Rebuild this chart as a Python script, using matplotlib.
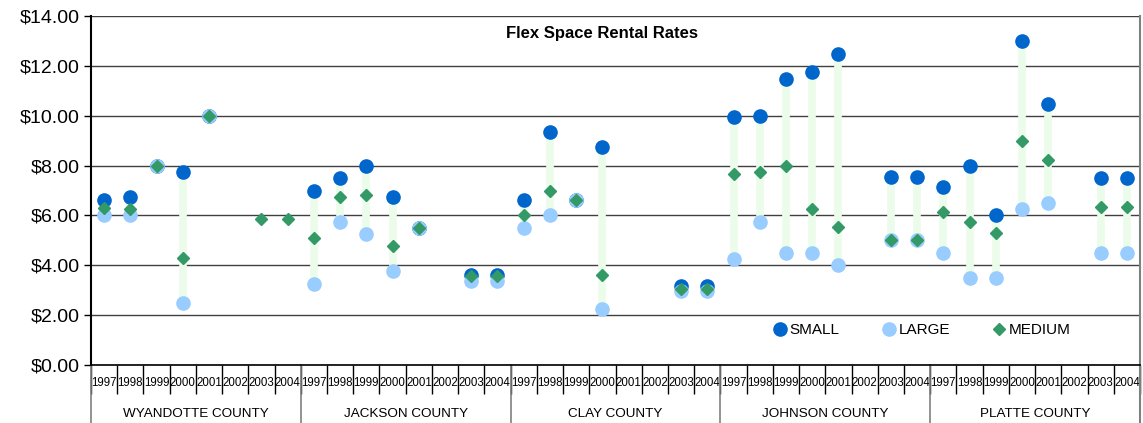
import matplotlib
matplotlib.use("Agg")
import matplotlib.pyplot as plt
import matplotlib.transforms as mtransforms
import numpy as np

plt.rcParams['font.family'] = ['Liberation Sans', 'DejaVu Sans']

counties = ['WYANDOTTE COUNTY', 'JACKSON COUNTY', 'CLAY COUNTY',
            'JOHNSON COUNTY', 'PLATTE COUNTY']
years = ['1997', '1998', '1999', '2000', '2001', '2002', '2003', '2004']
nan = np.nan

# rates per sq ft, one row per county, one column per year
small = [
    [6.62, 6.75, 8.00, 7.75, 10.00, nan, nan, nan],
    [7.00, 7.50, 8.00, 6.75, 5.50, nan, 3.61, 3.61],
    [6.60, 9.36, 6.60, 8.75, nan, nan, 3.16, 3.16],
    [9.95, 10.00, 11.48, 11.75, 12.48, nan, 7.54, 7.54],
    [7.15, 8.00, 6.00, 13.00, 10.48, nan, 7.50, 7.50],
]
large = [
    [6.00, 6.00, 8.00, 2.50, 10.00, nan, nan, nan],
    [3.25, 5.75, 5.25, 3.76, 5.50, nan, 3.35, 3.35],
    [5.50, 6.00, 6.60, 2.25, nan, nan, 2.95, 2.95],
    [4.25, 5.75, 4.50, 4.50, 4.00, nan, 5.00, 5.00],
    [4.50, 3.50, 3.50, 6.25, 6.50, nan, 4.50, 4.50],
]
medium = [
    [6.30, 6.25, 8.00, 4.30, 10.00, nan, 5.85, 5.85],
    [5.10, 6.75, 6.82, 4.76, 5.50, nan, 3.58, 3.58],
    [6.00, 7.00, 6.60, 3.60, nan, nan, 3.05, 3.05],
    [7.65, 7.75, 8.00, 6.26, 5.52, nan, 5.00, 5.00],
    [6.15, 5.75, 5.30, 9.00, 8.23, nan, 6.35, 6.35],
]

s = np.array(small).ravel()
l = np.array(large).ravel()
m = np.array(medium).ravel()
x = np.arange(len(s))
stack = np.vstack([s, l, m])
lo = np.nanmin(np.where(np.isnan(stack), np.inf, stack), axis=0)
hi = np.nanmax(np.where(np.isnan(stack), -np.inf, stack), axis=0)
has = np.isfinite(lo) & np.isfinite(hi)

fig = plt.figure(figsize=(11.43, 4.23), dpi=100)
ax = fig.add_axes([91 / 1143, 58 / 423, 1049 / 1143, 349 / 423])

ax.set_xlim(-0.5, len(s) - 0.5)
ax.set_ylim(0, 14)
ax.set_yticks(np.arange(0, 15, 2))
ax.set_yticklabels(['${:.2f}'.format(v) for v in np.arange(0, 15, 2)], fontsize=14)
ax.yaxis.grid(True, color='#404040', lw=1)
ax.set_axisbelow(True)

# high-low bars behind the markers
ax.vlines(x[has], lo[has], hi[has], color='#EBFCEB', lw=5.5, zorder=2)

ax.plot(x, s, 'o', color='#0066CC', ms=9.5, label='SMALL', zorder=3)
ax.plot(x, l, 'o', color='#99CCFF', ms=9.5, label='LARGE', zorder=4)
ax.plot(x, m, 'D', color='#339966', ms=6.5, label='MEDIUM', zorder=5)

for sp in ['top', 'right']:
    ax.spines[sp].set_visible(False)
ax.spines['left'].set_linewidth(1.5)
ax.spines['bottom'].set_linewidth(1.2)
ax.tick_params(axis='y', length=5, width=1, pad=3)

# year labels at category centres, tick marks at category boundaries
ax.set_xticks(x)
ax.set_xticklabels(years * len(counties), fontsize=8.3)
ax.tick_params(axis='x', which='major', length=0, pad=8.5)
ax.set_xticks(np.arange(-0.5, len(s), 1), minor=True)
ax.tick_params(axis='x', which='minor', length=21, width=1, direction='out')

trans = mtransforms.blended_transform_factory(ax.transData, ax.transAxes)
for i, name in enumerate(counties):
    ax.text(i * 8 + 3.5, -0.14, name, transform=trans, ha='center',
            va='center', fontsize=9.7)
for b in range(len(counties) + 1):
    xb = b * 8 - 0.5
    ax.plot([xb, xb], [0, -0.17], transform=trans, color='#808080',
            lw=1.2, clip_on=False)
# right border of the plot area
ax.plot([len(s) - 0.5, len(s) - 0.5], [-0.17, 1], transform=trans,
        color='#808080', lw=1.5, clip_on=False)

ax.text(0.487, 0.95, 'Flex Space Rental Rates', transform=ax.transAxes,
        ha='center', va='center', fontsize=12, fontweight='bold')

ax.legend(loc='center', bbox_to_anchor=(0.791, 0.1), ncol=3, frameon=False,
          fontsize=11, handletextpad=0.05, columnspacing=2.6,
          handlelength=1.2)

fig.savefig('out.png', dpi=100)
